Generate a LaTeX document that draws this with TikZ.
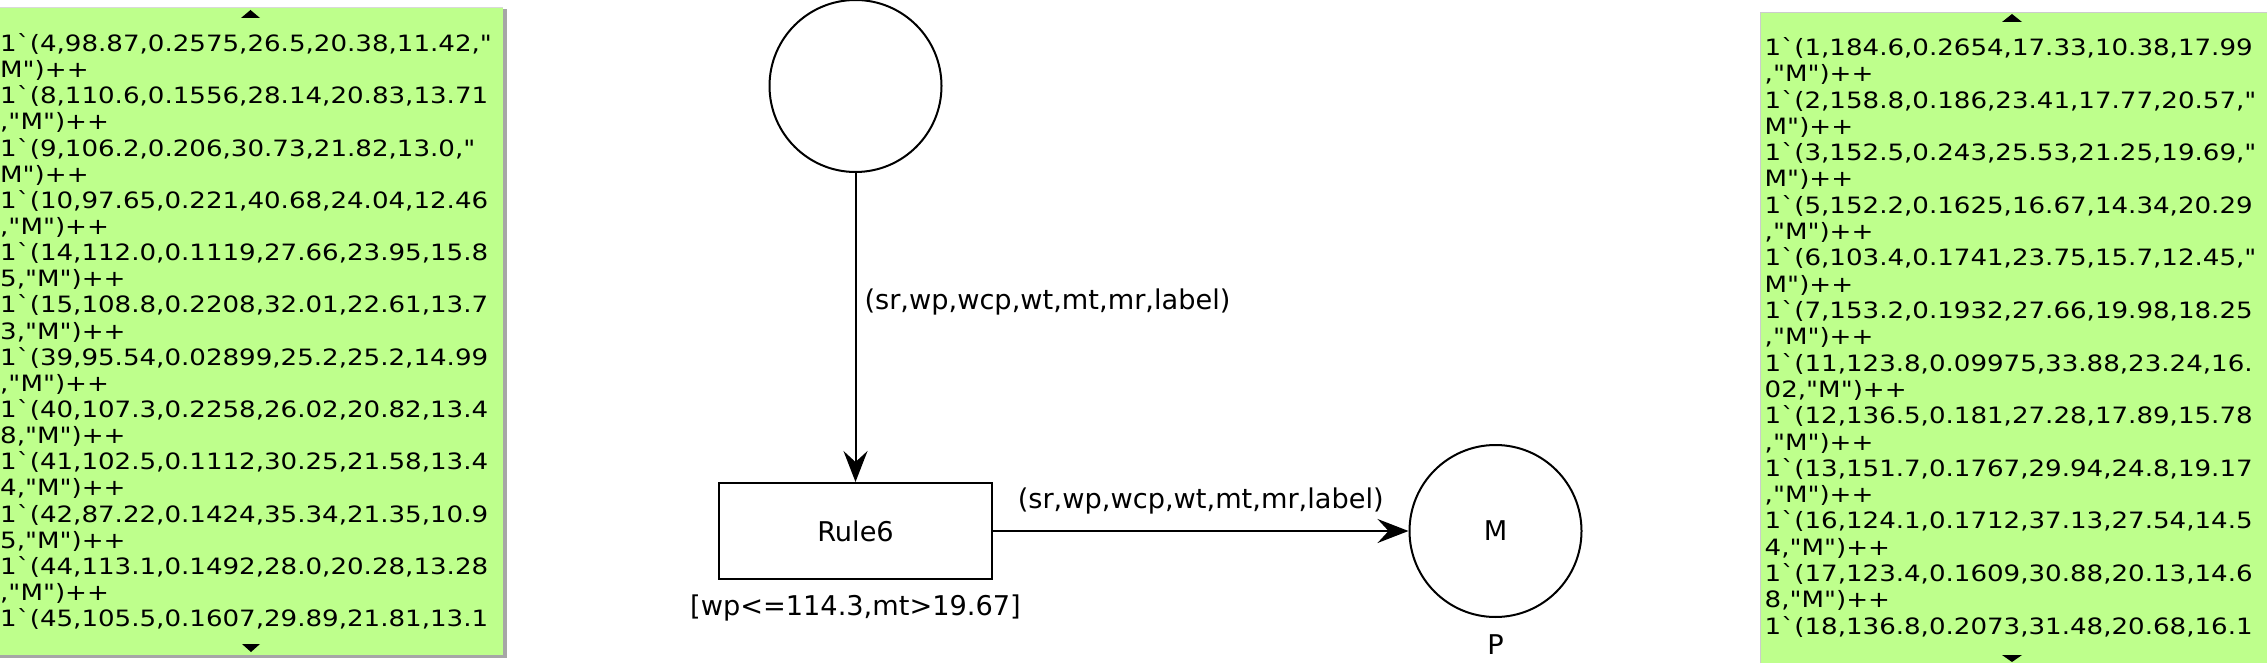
\documentclass[tikz,border=0pt]{standalone}
\usepackage{fontspec}
\usetikzlibrary{arrows.meta}
\newfontfamily\dvs[Ligatures=TeXOff]{DejaVu Sans}
\newfontfamily\dvsw[Ligatures=TeXOff,FakeStretch=1.16]{DejaVu Sans}
\definecolor{tokgreen}{RGB}{190,255,140}
\begin{document}
\begin{tikzpicture}[x=1pt,y=-1pt,
  place/.style={circle, draw, line width=2pt, minimum size=172pt, inner sep=0pt, font=\dvs\fontsize{27.2}{32}\selectfont},
  trans/.style={rectangle, draw, line width=2pt, minimum width=273pt, minimum height=96pt, inner sep=0pt, font=\dvs\fontsize{27.2}{32}\selectfont},
  arc/.style={line width=2pt, -{Stealth[length=31pt,width=24pt,inset=11pt]}},
  lbl/.style={font=\dvs\fontsize{27.2}{32}\selectfont, inner sep=0pt},
  toktxt/.style={font=\dvsw\fontsize{22.5}{26}\selectfont, inner sep=0pt, anchor=base west},
  scrollmark/.style={fill=black, draw=none}
]
\useasboundingbox (0,0) rectangle (2267,663);

% left token box
\fill[tokgreen] (0,7) rectangle (503,655);
\fill[black!35] (503,9) rectangle (507,658);
\fill[black!35] (0,655) rectangle (507,658);
\draw[black!15, line width=1pt] (0,7.5) -- (503,7.5);
\fill[scrollmark] (241,18) -- (260,18) -- (250.5,10) -- cycle;
\fill[scrollmark] (242,644) -- (260,644) -- (251,652) -- cycle;
\foreach \t [count=\i] in {
{1`(4,98.87,0.2575,26.5,20.38,11.42,"},
{M")++},
{1`(8,110.6,0.1556,28.14,20.83,13.71},
{,"M")++},
{1`(9,106.2,0.206,30.73,21.82,13.0,"},
{M")++},
{1`(10,97.65,0.221,40.68,24.04,12.46},
{,"M")++},
{1`(14,112.0,0.1119,27.66,23.95,15.8},
{5,"M")++},
{1`(15,108.8,0.2208,32.01,22.61,13.7},
{3,"M")++},
{1`(39,95.54,0.02899,25.2,25.2,14.99},
{,"M")++},
{1`(40,107.3,0.2258,26.02,20.82,13.4},
{8,"M")++},
{1`(41,102.5,0.1112,30.25,21.58,13.4},
{4,"M")++},
{1`(42,87.22,0.1424,35.34,21.35,10.9},
{5,"M")++},
{1`(44,113.1,0.1492,28.0,20.28,13.28},
{,"M")++},
{1`(45,105.5,0.1607,29.89,21.81,13.1}}
  \node[toktxt] (lt\i) at (0,{51.5+26.14*(\i-1)}) {\t};

% right token box
\fill[tokgreen] (1760,12) rectangle (2267,663);
\draw[black!20, line width=1pt] (1760.5,663) -- (1760.5,12.5) -- (2267,12.5);
\fill[scrollmark] (2002,22) -- (2022,22) -- (2012,14) -- cycle;
\fill[scrollmark] (2002,655) -- (2022,655) -- (2012,662) -- cycle;
\foreach \t [count=\i] in {
{1`(1,184.6,0.2654,17.33,10.38,17.99},
{,"M")++},
{1`(2,158.8,0.186,23.41,17.77,20.57,"},
{M")++},
{1`(3,152.5,0.243,25.53,21.25,19.69,"},
{M")++},
{1`(5,152.2,0.1625,16.67,14.34,20.29},
{,"M")++},
{1`(6,103.4,0.1741,23.75,15.7,12.45,"},
{M")++},
{1`(7,153.2,0.1932,27.66,19.98,18.25},
{,"M")++},
{1`(11,123.8,0.09975,33.88,23.24,16.},
{02,"M")++},
{1`(12,136.5,0.181,27.28,17.89,15.78},
{,"M")++},
{1`(13,151.7,0.1767,29.94,24.8,19.17},
{,"M")++},
{1`(16,124.1,0.1712,37.13,27.54,14.5},
{4,"M")++},
{1`(17,123.4,0.1609,30.88,20.13,14.6},
{8,"M")++},
{1`(18,136.8,0.2073,31.48,20.68,16.1}}
  \node[toktxt] (rt\i) at (1764.5,{55.5+26.3*(\i-1)}) {\t};

% net
\node[place] (src) at (855.5,86) {};
\node[trans] (rule) at (855.5,531) {Rule6};
\node[place] (m) at (1495.5,531) {M};
\node[lbl, anchor=base] (guard) at (855.5,615) {[wp<=114.3,mt>19.67]};
\node[lbl, anchor=base] (pname) at (1495.5,654) {P};
\draw[arc] (src) -- (rule) node[lbl, pos=0.443, anchor=base west, xshift=8pt] (lab1) {(sr,wp,wcp,wt,mt,mr,label)};
\draw[arc] (rule) -- (m) node[lbl, midway, anchor=base, yshift=22.5pt] (lab2) {(sr,wp,wcp,wt,mt,mr,label)};
\end{tikzpicture}
\end{document}
